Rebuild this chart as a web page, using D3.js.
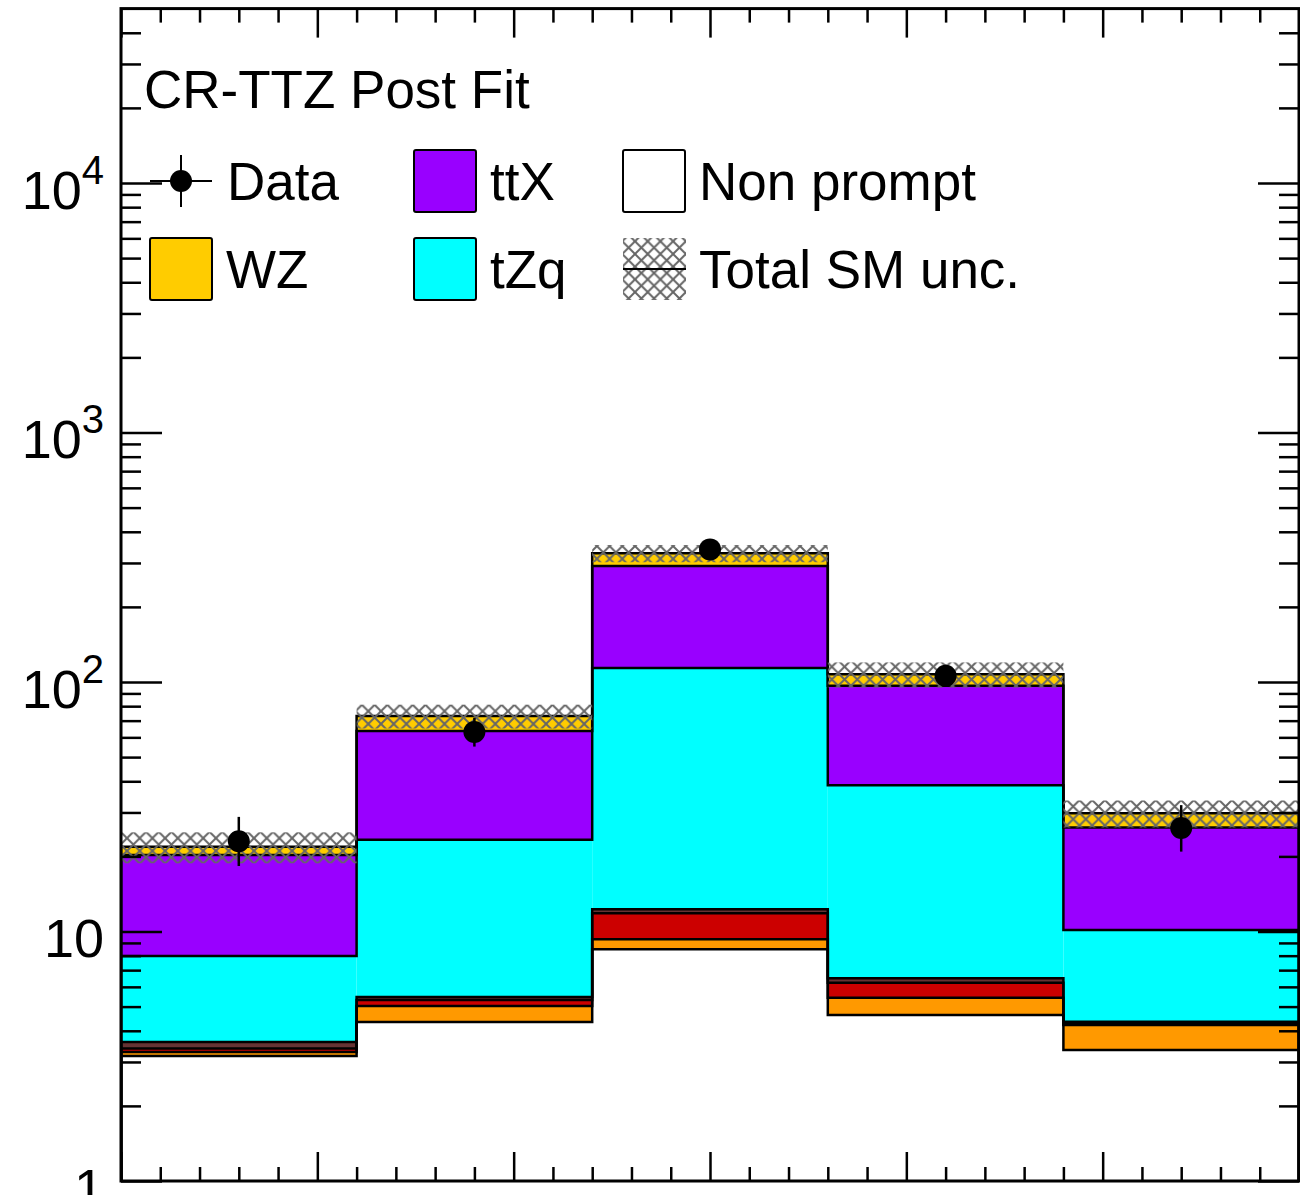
<!DOCTYPE html>
<html><head><meta charset="utf-8">
<script src="https://cdn.jsdelivr.net/npm/d3@7"></script>
<style>
body{margin:0;background:#fff}
svg{display:block}
text{font-family:"Liberation Sans",Arial,Helvetica,sans-serif;fill:#000}
</style>
</head><body>
<svg id="c" width="1300" height="1195"></svg>
<script>
// ---------- data ----------
const bins = [0, 1, 2, 3, 4];                     // 5 bins
const nonPrompt = [3.17, 4.34, 8.49, 4.63, 3.35];
const orangeBkg = [0.12, 0.69, 0.82, 0.80, 0.87];
const redBkg    = [0.11, 0.28, 2.52, 0.80, 0.03];
const brownBkg  = [0.21, 0.15, 0.44, 0.26, 0.10];
const tZq       = [4.36, 17.84, 101.5, 32.1, 5.79];
const ttX       = [12.3, 40.3, 177.9, 58.1, 15.96];
const WZ        = [1.6, 9.5, 36.3, 10.7, 3.7];
const totalUnc  = [3.1, 8.0, 26, 12.4, 3.7];
const dataVals  = [23, 63, 340, 106, 26];
const dataErrLo = [4.7, 7.9, 18.4, 10.3, 5.1];
const dataErrHi = [5.8, 8.9, 19.4, 11.3, 6.1];
const yMajorTicks = [1, 10, 100, 1000, 10000];
const yTickExp    = [0, 1, 2, 3, 4];
const xMajorTicks = [0, 5, 10, 15, 20, 25, 30];
const title = "CR-TTZ Post Fit";

// ---------- layout ----------
const X0 = 121, X1 = 1299, Y0 = 1181, Y1 = 8.6;
const svg = d3.select("#c");
const x = d3.scaleLinear().domain([0, bins.length]).range([X0, X1]);
const xt = d3.scaleLinear().domain([0, 30]).range([X0, X1]);
const y = d3.scaleLog().domain([1, 5e4]).range([Y0, Y1]);

const layers = [
  {vals: nonPrompt, color: "#ffffff"},
  {vals: orangeBkg, color: "#ff9900"},
  {vals: redBkg,    color: "#cc0000"},
  {vals: brownBkg,  color: "#663333"},
  {vals: tZq,       color: "#00ffff"},
  {vals: ttX,       color: "#9900ff"},
  {vals: WZ,        color: "#ffcc00"}
];
let cum = bins.map(() => 0);
layers.forEach(l => {
  l.lo = cum.slice();
  l.hi = cum.map((c, i) => c + l.vals[i]);
  cum = l.hi.slice();
});
const total = cum;

const defs = svg.append("defs");
defs.append("clipPath").attr("id", "plotclip").append("rect")
  .attr("x", X0).attr("y", Y1).attr("width", X1 - X0).attr("height", Y0 - Y1);
const pat = defs.append("pattern").attr("id", "hatch").attr("patternUnits", "userSpaceOnUse")
  .attr("width", 12.7).attr("height", 12.7);
pat.append("path").attr("d", "M-2,-2L14.7,14.7M14.7,-2L-2,14.7")
  .attr("stroke", "#666").attr("stroke-width", 2).attr("fill", "none");

const plot = svg.append("g").attr("clip-path", "url(#plotclip)");

// fills
layers.forEach(l => {
  plot.append("g").selectAll("rect").data(bins).join("rect")
    .attr("x", i => x(i)).attr("width", i => x(i + 1) - x(i))
    .attr("y", i => y(l.hi[i]))
    .attr("height", i => (l.lo[i] > 0 ? y(l.lo[i]) : Y0) - y(l.hi[i]))
    .attr("fill", l.color);
});
// outlines (step lines)
layers.forEach(l => {
  let d = `M${x(0)},${Y0}`;
  bins.forEach(i => { d += `V${y(l.hi[i])}H${x(i + 1)}`; });
  d += `V${Y0}`;
  plot.append("path").attr("d", d).attr("fill", "none")
    .attr("stroke", "#000").attr("stroke-width", 2.5);
});
// uncertainty band
plot.append("g").selectAll("rect").data(bins).join("rect")
  .attr("x", i => x(i)).attr("width", i => x(i + 1) - x(i))
  .attr("y", i => y(total[i] + totalUnc[i]))
  .attr("height", i => y(total[i] - totalUnc[i]) - y(total[i] + totalUnc[i]))
  .attr("fill", "url(#hatch)");

// data
const dg = plot.append("g");
dg.selectAll("line").data(bins).join("line")
  .attr("x1", i => x(i + 0.5)).attr("x2", i => x(i + 0.5))
  .attr("y1", i => y(dataVals[i] + dataErrHi[i])).attr("y2", i => y(dataVals[i] - dataErrLo[i]))
  .attr("stroke", "#000").attr("stroke-width", 2.5);
dg.selectAll("circle").data(bins).join("circle")
  .attr("cx", i => x(i + 0.5)).attr("cy", i => y(dataVals[i])).attr("r", 11).attr("fill", "#000");

// ---------- axes ----------
const yMinor = [];
for (let k = 0; k <= 4; k++) for (let m = 2; m <= 9; m++) { const v = m * Math.pow(10, k); if (v < 5e4) yMinor.push(v); }
const xMinor = d3.range(0, 31).filter(v => v % 5 !== 0);

function styleAxis(g) {
  g.select(".domain").remove();
  g.selectAll(".tick line").attr("stroke", "#000").attr("stroke-width", 2.5);
  g.selectAll(".tick text").remove();
}
svg.append("g").attr("transform", `translate(${X0},0)`).call(d3.axisLeft(y).tickValues(yMajorTicks).tickSize(-41).tickFormat("")).call(styleAxis);
svg.append("g").attr("transform", `translate(${X0},0)`).call(d3.axisLeft(y).tickValues(yMinor).tickSize(-20).tickFormat("")).call(styleAxis);
svg.append("g").attr("transform", `translate(${X1},0)`).call(d3.axisRight(y).tickValues(yMajorTicks).tickSize(-41).tickFormat("")).call(styleAxis);
svg.append("g").attr("transform", `translate(${X1},0)`).call(d3.axisRight(y).tickValues(yMinor).tickSize(-20).tickFormat("")).call(styleAxis);
svg.append("g").attr("transform", `translate(0,${Y0})`).call(d3.axisBottom(xt).tickValues(xMajorTicks).tickSize(-29).tickFormat("")).call(styleAxis);
svg.append("g").attr("transform", `translate(0,${Y0})`).call(d3.axisBottom(xt).tickValues(xMinor).tickSize(-14).tickFormat("")).call(styleAxis);
svg.append("g").attr("transform", `translate(0,${Y1})`).call(d3.axisTop(xt).tickValues(xMajorTicks).tickSize(-29).tickFormat("")).call(styleAxis);
svg.append("g").attr("transform", `translate(0,${Y1})`).call(d3.axisTop(xt).tickValues(xMinor).tickSize(-14).tickFormat("")).call(styleAxis);

// frame
svg.append("rect").attr("x", X0).attr("y", Y1).attr("width", X1 - X0).attr("height", Y0 - Y1)
  .attr("fill", "none").attr("stroke", "#000").attr("stroke-width", 3);

// y tick labels
yMajorTicks.forEach((v, i) => {
  const e = yTickExp[i];
  const t = svg.append("text").attr("x", 104).attr("y", y(v) + 26).attr("text-anchor", "end")
    .style("font-size", "54px");
  if (e === 0) t.text("1");
  else if (e === 1) t.text("10");
  else {
    t.append("tspan").text("10");
    t.append("tspan").attr("dy", -25).style("font-size", "40px").text(String(e));
  }
});

// ---------- legend ----------
const FS = "53px";
const lg = svg.append("g");
lg.append("text").attr("x", 144).attr("y", 108).style("font-size", FS).text(title);
lg.append("line").attr("x1", 150).attr("x2", 212).attr("y1", 181).attr("y2", 181).attr("stroke", "#000").attr("stroke-width", 2);
lg.append("line").attr("x1", 181).attr("x2", 181).attr("y1", 155).attr("y2", 207).attr("stroke", "#000").attr("stroke-width", 2);
lg.append("circle").attr("cx", 181).attr("cy", 181).attr("r", 11).attr("fill", "#000");
lg.append("text").attr("x", 227).attr("y", 200).style("font-size", FS).text("Data");
const boxes = [
  {x: 414, y: 150, fill: "#9900ff", label: "ttX"},
  {x: 623, y: 150, fill: "#ffffff", label: "Non prompt"},
  {x: 150, y: 238, fill: "#ffcc00", label: "WZ"},
  {x: 414, y: 238, fill: "#00ffff", label: "tZq"}
];
boxes.forEach(b => {
  lg.append("rect").attr("x", b.x).attr("y", b.y).attr("width", 62).attr("height", 62)
    .attr("rx", 2).attr("fill", b.fill).attr("stroke", "#000").attr("stroke-width", 2);
  lg.append("text").attr("x", b.x + 76).attr("y", b.y + 50).style("font-size", FS).text(b.label);
});
lg.append("rect").attr("x", 623).attr("y", 238).attr("width", 63).attr("height", 62).attr("fill", "url(#hatch)");
lg.append("line").attr("x1", 623).attr("x2", 686).attr("y1", 269).attr("y2", 269).attr("stroke", "#000").attr("stroke-width", 2);
lg.append("text").attr("x", 699).attr("y", 288).style("font-size", FS).text("Total SM unc.");
</script>
</body></html>
